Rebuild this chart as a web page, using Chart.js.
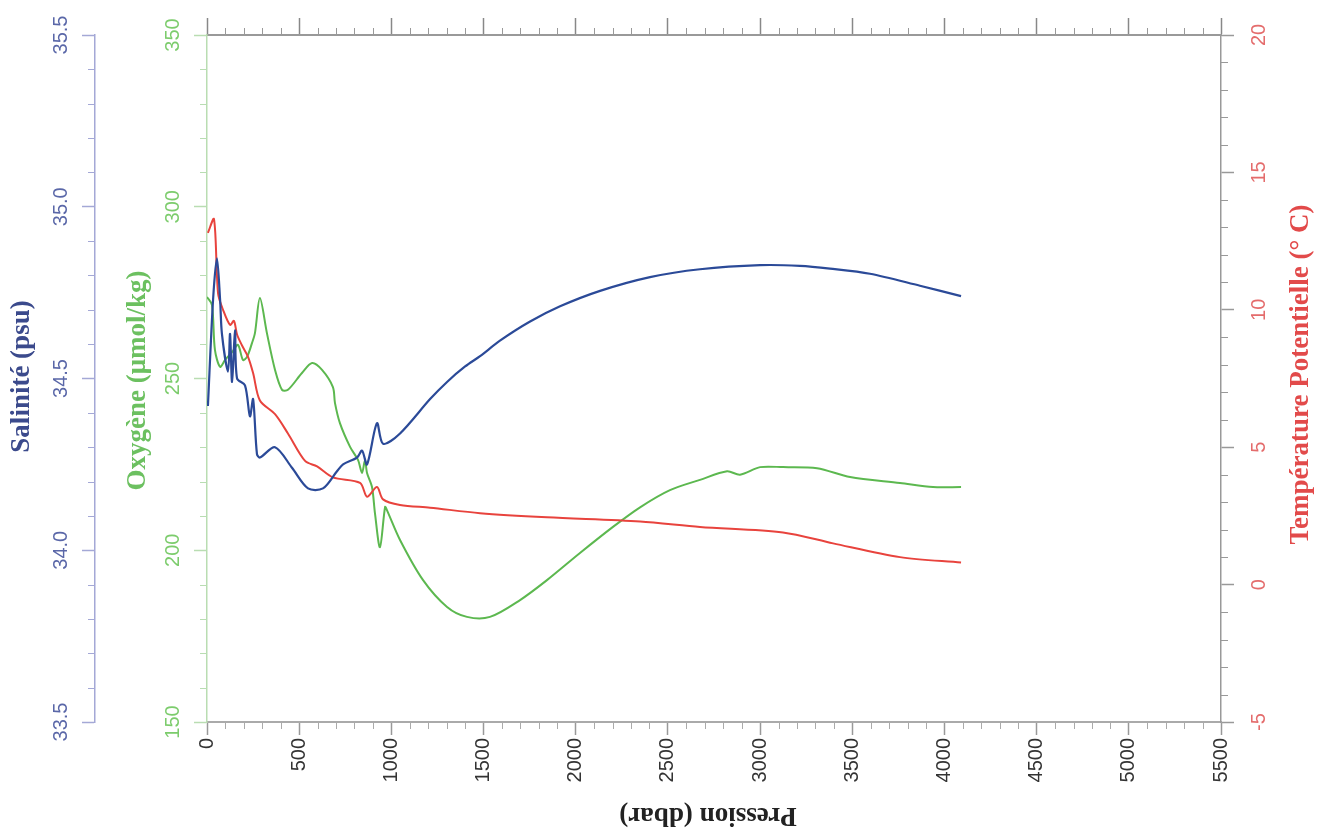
<!DOCTYPE html>
<html>
<head>
<meta charset="utf-8">
<script src="https://cdn.jsdelivr.net/npm/chart.js@4.4.1/dist/chart.umd.min.js"></script>
<style>
  html, body { margin: 0; padding: 0; background: #fff; }
  canvas { display: block; }
</style>
</head>
<body>
<canvas id="profil" width="1327" height="833"></canvas>
<script>
// Salinité (psu) vs pression (dbar)
const salPression = [5, 33, 54, 71, 81, 114, 125, 136, 152, 163, 206, 233, 250, 271, 287, 369, 461, 548, 629, 705, 738, 814, 841, 868, 922, 955, 1047, 1210, 1302, 1400, 1481, 1589, 1750, 1915, 2132, 2403, 2674, 3000, 3216, 3379, 3596, 3867, 4090];
const salinite = [34.42, 34.73, 34.85, 34.73, 34.63, 34.52, 34.63, 34.49, 34.64, 34.50, 34.48, 34.39, 34.44, 34.28, 34.27, 34.30, 34.24, 34.18, 34.18, 34.23, 34.25, 34.27, 34.29, 34.25, 34.37, 34.31, 34.34, 34.44, 34.49, 34.535, 34.565, 34.61, 34.665, 34.71, 34.755, 34.795, 34.818, 34.83, 34.828, 34.82, 34.805, 34.77, 34.74];

// Oxygène (umol/kg)
const oxyPression = [0, 27, 43, 71, 98, 136, 168, 195, 217, 244, 260, 287, 325, 369, 407, 439, 515, 570, 624, 683, 694, 721, 776, 819, 841, 857, 868, 895, 911, 938, 966, 976, 1047, 1172, 1302, 1410, 1535, 1698, 1844, 2023, 2202, 2349, 2511, 2674, 2821, 2891, 3000, 3124, 3309, 3488, 3759, 3938, 4090];
const oxygene = [273.7, 271.4, 258.3, 253.4, 255.4, 257.7, 259.8, 255.4, 256.3, 260.3, 263.2, 273.4, 263.2, 252.5, 246.7, 246.7, 251.6, 254.5, 252.5, 247.5, 242.9, 237.0, 230.1, 226.3, 222.5, 226.3, 222.5, 218.4, 210.8, 200.9, 212.6, 211.7, 203.0, 191.3, 183.5, 180.6, 180.6, 185.5, 191.3, 199.2, 206.8, 212.5, 217.5, 220.5, 223.0, 222.0, 224.2, 224.2, 223.9, 221.3, 219.6, 218.4, 218.4];

// Température potentielle (°C)
const tempPression = [5, 38, 60, 87, 125, 146, 163, 190, 222, 250, 287, 369, 439, 532, 597, 683, 830, 868, 922, 955, 1047, 1210, 1481, 1844, 2349, 2674, 3124, 3396, 3759, 4090];
const temperature = [12.8, 13.3, 10.6, 10.0, 9.45, 9.6, 9.1, 8.7, 8.3, 7.7, 6.7, 6.2, 5.5, 4.5, 4.3, 3.9, 3.7, 3.2, 3.55, 3.1, 2.9, 2.8, 2.6, 2.45, 2.3, 2.1, 1.9, 1.5, 1.0, 0.8];

const TICK_FONT = { family: "'Liberation Sans', Arial, sans-serif", size: 20 };
const TITLE_FONT = "bold 27px 'Liberation Serif', 'Times New Roman', serif";

function pairs(xs, ys) {
  return xs.map((x, i) => ({ x, y: ys[i] }));
}

function sideAxis(opts) {
  return {
    type: "linear",
    position: opts.position,
    weight: opts.weight,
    min: opts.min,
    max: opts.max,
    afterFit: (scale) => { scale.width = opts.width; },
    ticks: {
      stepSize: opts.step,
      minRotation: 90,
      maxRotation: 90,
      crossAlign: "center",
      padding: opts.padding,
      color: opts.labelColor,
      font: TICK_FONT,
      callback: opts.format
    },
    grid: {
      drawOnChartArea: false,
      drawTicks: true,
      tickLength: 13,
      tickColor: opts.lineColor,
      tickWidth: 1.5
    },
    border: { display: true, color: opts.lineColor, width: 1.5 }
  };
}

// small ticks between the labelled ones
const minorTicks = {
  id: "minorTicks",
  afterDraw(chart) {
    const { ctx, scales } = chart;
    ctx.save();
    ctx.lineWidth = 1;

    const hLine = (x0, x1, y, color) => {
      ctx.strokeStyle = color;
      ctx.beginPath();
      ctx.moveTo(x0, y);
      ctx.lineTo(x1, y);
      ctx.stroke();
    };
    const vLine = (x, y0, y1, color) => {
      ctx.strokeStyle = color;
      ctx.beginPath();
      ctx.moveTo(x, y0);
      ctx.lineTo(x, y1);
      ctx.stroke();
    };

    for (let i = 0; i <= 55; i++) {
      if (i % 5 === 0) continue;
      const px = Math.round(scales.x.getPixelForValue(i * 100)) + 0.5;
      vLine(px, scales.x.top, scales.x.top + 7, "#aaa");
      vLine(px, scales.xTop.bottom, scales.xTop.bottom - 7, "#999");
    }
    for (let i = 0; i <= 20; i++) {
      if (i % 5 === 0) continue;
      const py = Math.round(scales.sal.getPixelForValue(33.5 + i * 0.1)) + 0.5;
      hLine(scales.sal.right - 7, scales.sal.right, py, "#a4a8d6");
    }
    for (let i = 0; i <= 20; i++) {
      if (i % 5 === 0) continue;
      const py = Math.round(scales.oxy.getPixelForValue(150 + i * 10)) + 0.5;
      hLine(scales.oxy.right - 7, scales.oxy.right, py, "#b9ddb2");
    }
    for (let i = 0; i <= 25; i++) {
      if (i % 5 === 0) continue;
      const py = Math.round(scales.temp.getPixelForValue(-5 + i)) + 0.5;
      hLine(scales.temp.left, scales.temp.left + 7, py, "#999");
    }
    ctx.restore();
  }
};

const axisTitles = {
  id: "axisTitles",
  afterDraw(chart) {
    const { ctx, scales, chartArea } = chart;
    const midY = (chartArea.top + chartArea.bottom) / 2;
    const midX = (chartArea.left + chartArea.right) / 2;

    const put = (text, x, y, angle, color) => {
      ctx.save();
      ctx.translate(x, y);
      ctx.rotate(angle);
      ctx.font = TITLE_FONT;
      ctx.fillStyle = color;
      ctx.textAlign = "center";
      ctx.textBaseline = "middle";
      ctx.fillText(text, 0, 0);
      ctx.restore();
    };

    put("Salinité (psu)", scales.sal.left + 22, midY - 2, -Math.PI / 2, "#3b4a8c");
    put("Oxygène (μmol/kg)", scales.oxy.left + 43, midY + 2, -Math.PI / 2, "#6cc060");
    put("Température Potentielle (° C)", scales.temp.left + 80, midY - 4, -Math.PI / 2, "#e24a4a");
    put("Pression (dbar)", midX - 6, scales.x.top + 93, Math.PI, "#222");
  }
};

new Chart(document.getElementById("profil"), {
  type: "line",
  data: {
    datasets: [
      {
        label: "Salinité",
        data: pairs(salPression, salinite),
        yAxisID: "sal",
        borderColor: "#2b4a98",
        borderWidth: 2.2
      },
      {
        label: "Température",
        data: pairs(tempPression, temperature),
        yAxisID: "temp",
        borderColor: "#e8433d",
        borderWidth: 2
      },
      {
        label: "Oxygène",
        data: pairs(oxyPression, oxygene),
        yAxisID: "oxy",
        borderColor: "#5cb84f",
        borderWidth: 2
      }
    ]
  },
  options: {
    responsive: false,
    animation: false,
    layout: { padding: 0 },
    elements: {
      point: { radius: 0 },
      line: { tension: 0.3, fill: false }
    },
    plugins: {
      legend: { display: false },
      tooltip: { enabled: false }
    },
    scales: {
      x: {
        type: "linear",
        position: "bottom",
        min: 0,
        max: 5500,
        afterFit: (scale) => { scale.height = 111; },
        ticks: {
          stepSize: 500,
          minRotation: 90,
          maxRotation: 90,
          padding: 3,
          color: "#333",
          font: TICK_FONT,
          callback: (v) => String(v)
        },
        grid: {
          drawOnChartArea: false,
          tickLength: 13,
          tickColor: "#999",
          tickWidth: 1.5
        },
        border: { display: true, color: "#aaa", width: 2 }
      },
      xTop: {
        type: "linear",
        position: "top",
        min: 0,
        max: 5500,
        afterFit: (scale) => { scale.height = 35; },
        ticks: { stepSize: 500, display: false },
        grid: {
          drawOnChartArea: false,
          tickLength: 17,
          tickColor: "#888",
          tickWidth: 1.5
        },
        border: { display: true, color: "#999", width: 2 }
      },
      sal: sideAxis({
        position: "left", weight: 1, width: 95,
        min: 33.5, max: 35.5, step: 0.5, padding: 1,
        labelColor: "#5a67a8", lineColor: "#a4a8d6",
        format: (v) => v.toFixed(1)
      }),
      oxy: sideAxis({
        position: "left", weight: 0, width: 112,
        min: 150, max: 350, step: 50, padding: 4,
        labelColor: "#7ccc6c", lineColor: "#b9ddb2",
        format: (v) => String(v)
      }),
      temp: sideAxis({
        position: "right", weight: 0, width: 106,
        min: -5, max: 20, step: 5, padding: 14,
        labelColor: "#e46c6c", lineColor: "#999",
        format: (v) => String(v)
      })
    }
  },
  plugins: [minorTicks, axisTitles]
});
</script>
</body>
</html>
